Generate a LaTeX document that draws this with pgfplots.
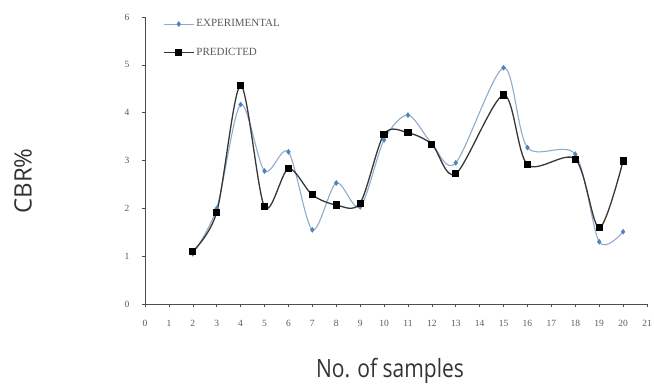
\documentclass[border=0pt]{standalone}
\usepackage{fontspec}
\setmainfont{Liberation Serif}
\newfontfamily\labelfont{Open Sans}
\usepackage{pgfplots}
\pgfplotsset{compat=1.18}

\definecolor{expline}{RGB}{142,172,204}
\definecolor{expmark}{RGB}{79,129,189}
\definecolor{predline}{RGB}{55,55,55}

\begin{document}
\begin{tikzpicture}[x=1pt,y=1pt]
\useasboundingbox (-145,-81) rectangle (509,304);
\begin{axis}[
  at={(0,0)}, anchor=origin,
  scale only axis,
  width=502pt, height=287pt,
  xmin=0, xmax=21, ymin=0, ymax=6,
  axis x line*=bottom, axis y line*=left,
  axis line style={-, line width=0.9pt, black!70},
  xtick={0,1,...,21}, ytick={0,1,...,6},
  tick style={black!70, line width=0.6pt},
  major tick length=3pt,
  tick align=outside,
  /pgf/number format/assume math mode=true,
  ticklabel style={font=\fontsize{9.5}{10}\selectfont, text=black!65},
  xticklabel style={yshift=-9.5pt},
  yticklabel style={xshift=-9pt},
  legend style={draw=none, fill=none, at={(axis cs:0.75,5.99)}, anchor=north west,
    font=\fontsize{11}{12}\selectfont, text=black!65, row sep=16pt,
    inner sep=0pt},
  legend cell align=left,
  legend image code/.code={\draw[mark repeat=2,mark phase=2] plot coordinates {(0pt,0pt) (15pt,0pt) (30pt,0pt)};},
  clip=false,
]
\addplot[color=expline, line width=1.1pt, smooth, tension=0.5,
  mark=diamond*, mark size=2.6pt, mark options={fill=expmark, draw=expmark, line width=0.3pt}]
  coordinates {
  (2,1.05) (3,2.00) (4,4.17) (5,2.78) (6,3.18) (7,1.55) (8,2.53) (9,2.03)
  (10,3.43) (11,3.95) (12,3.35) (13,2.95) (15,4.94) (16,3.27) (18,3.13)
  (19,1.30) (20,1.51)};
\addlegendentry{EXPERIMENTAL}
\addplot[color=predline, line width=1.3pt, smooth, tension=0.5,
  mark=square*, mark size=2.9pt, mark options={fill=black, draw=black}]
  coordinates {
  (2,1.10) (3,1.92) (4,4.57) (5,2.03) (6,2.83) (7,2.28) (8,2.07) (9,2.11)
  (10,3.55) (11,3.58) (12,3.34) (13,2.72) (15,4.37) (16,2.91) (18,3.03)
  (19,1.59) (20,2.99)};
\addlegendentry{PREDICTED}
\end{axis}
\node[rotate=90, font=\labelfont\fontsize{24}{26}\selectfont, text=black!80] at (-122,123) {CBR\%};
\node[anchor=base, yscale=1.2, font=\labelfont\fontsize{21}{24}\selectfont, text=black!80] at (245,-74) {No. of samples};
\end{tikzpicture}
\end{document}
